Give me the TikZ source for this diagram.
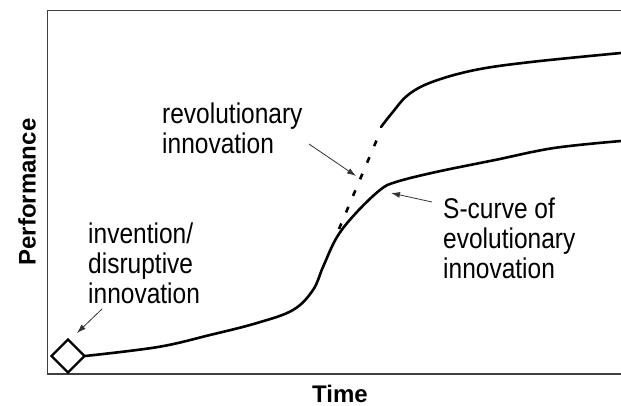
\documentclass[tikz,border=0pt]{standalone}
\usepackage{fontspec}
\setmainfont{Liberation Sans}
\newfontfamily\tallfont{Liberation Sans}[FakeStretch=0.86]
\usepackage{tikz}
\usetikzlibrary{arrows.meta,positioning,shapes.geometric}
\tikzset{%
	axis/.style     = {draw=black!75, line width=1.2pt}, % Frame
	curve/.style    = {line width=2.6pt, line cap=round}, % S-curve
	jump/.style     = {curve, line cap=butt, dash pattern=on 6pt off 12pt}, % Jump
	start/.style    = {draw, diamond, line width=2.2pt, minimum size=34pt, inner sep=0pt}, % Invention
	label/.style    = {align=left, inner sep=0pt, font=\tallfont\fontsize{28.5}{30}\selectfont}, % Text
	axislabel/.style= {inner sep=0pt, font=\fontsize{24}{29}\selectfont\bfseries}, % Axis text
	pointer/.style  = {draw=black!80, line width=0.8pt, -{Latex[length=9pt,width=6pt]}}, % Arrow
}

\begin{document}
\begin{tikzpicture}[x=1pt, y=-1pt]
	\useasboundingbox (0,0) rectangle (621,406);
	% frame and axes
	\draw[axis] (621,10.7) -- (47.5,10.7) -- (47.5,374) -- (621,374);
	\node[axislabel, rotate=90] (perf) at (27,192) {Performance};
	\node[axislabel, anchor=base] (time) at (340,402) {Time};
	% curves
	\node[start] (inv) at (68,356) {};
	\draw[curve] (inv.east) plot[smooth, tension=0.6] coordinates {(85,356) (158,347) (210,335) (257,323) (293,310) (313,290) (323,267) (337,237) (356,213) (380,190) (396,182) (436,172) (495,160) (554,148) (621,141)};
	\coordinate (jumpA) at (339,229);
	\coordinate (jumpB) at (378,137);
	\draw[jump] (jumpA) -- (jumpB);
	\draw[curve] plot[smooth, tension=0.6] coordinates {(381,127) (392,113) (408,95) (432,82) (475,70) (531,62) (621,53)};
	% labels
	\node[label, anchor=west] (invtxt) at (88,263) {invention/\\disruptive\\innovation};
	\node[label, anchor=west] (revtxt) at (162,128) {revolutionary\\innovation};
	\node[label, anchor=west] (evotxt) at (443,238) {S-curve of\\evolutionary\\innovation};
	% pointers
	\coordinate (invfrom) at (102,309);
	\coordinate (invto) at (77,333);
	\coordinate (revfrom) at (309,144);
	\coordinate (revto) at (356,176);
	\coordinate (evofrom) at (432,202);
	\coordinate (evoto) at (391,193);
	\draw[pointer] (invfrom) -- (invto);
	\draw[pointer] (revfrom) -- (revto);
	\draw[pointer] (evofrom) -- (evoto);
\end{tikzpicture}
\end{document}
